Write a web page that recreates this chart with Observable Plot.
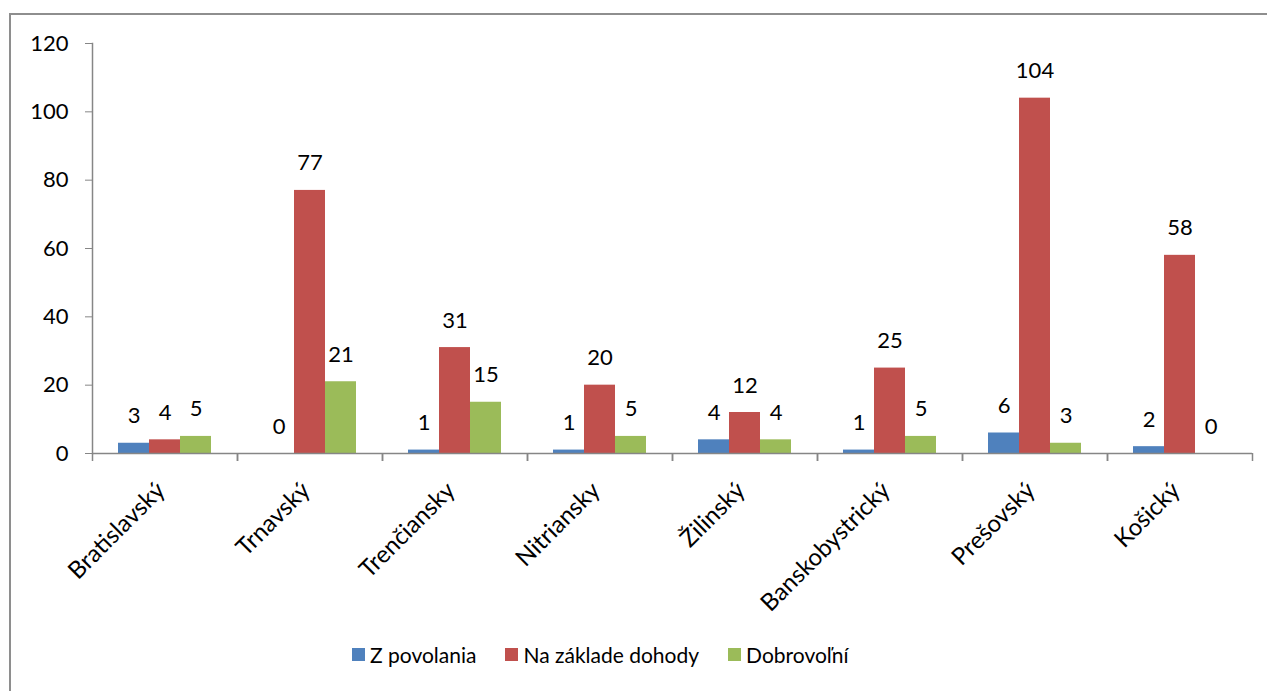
<!DOCTYPE html>
<html>
<head>
<meta charset="utf-8">
<script src="https://cdn.jsdelivr.net/npm/d3@7"></script>
<script src="https://cdn.jsdelivr.net/npm/@observablehq/plot@0.6"></script>
<style>
  html, body { margin: 0; padding: 0; background: #fff; }
  #wrap { position: relative; width: 1267px; height: 691px; overflow: hidden; font-family: Lato, sans-serif; }
  #border { position: absolute; left: 9px; top: 13px; width: 1400px; height: 800px; border-left: 2px solid #8e8e8e; border-top: 2px solid #8e8e8e; box-sizing: border-box; }
  #chart { position: absolute; left: 0; top: 0; }
  #legend { position: absolute; left: 352px; top: 638px; }
  #legend .lg-swatch { margin-right: 29px !important; }
  #legend .lg-swatch > svg { margin-right: 5px !important; }
</style>
</head>
<body>
<div id="wrap">
  <div id="border"></div>
  <div id="chart"></div>
  <div id="legend"></div>
</div>
<script>
const regions = ["Bratislavský", "Trnavský", "Trenčiansky", "Nitriansky", "Žilinský", "Banskobystrický", "Prešovský", "Košický"];
const series = ["Z povolania", "Na základe dohody", "Dobrovoľní"];
const zPovolania = [3, 0, 1, 1, 4, 1, 6, 2];
const naZakladeDohody = [4, 77, 31, 20, 12, 25, 104, 58];
const dobrovolni = [5, 21, 15, 5, 4, 5, 3, 0];
const yTicks = [0, 20, 40, 60, 80, 100, 120];
const colors = ["#4F81BD", "#C0504D", "#9BBB59"];

const seriesValues = [zPovolania, naZakladeDohody, dobrovolni];
const rows = [];
regions.forEach((r, i) => {
  series.forEach((s, j) => rows.push({region: r, series: s, value: seriesValues[j][i]}));
});

const W = 1267, H = 603, mL = 92, mR = 15, mT = 43, mB = 150;
const half = (W - mL - mR) / regions.length / 2;
const gray = "#868686";

const chart = Plot.plot({
  width: W, height: H,
  marginLeft: mL, marginRight: mR, marginTop: mT, marginBottom: mB,
  style: {fontFamily: "Lato, sans-serif", color: "#000", background: "transparent", overflow: "visible"},
  fx: {domain: regions, padding: 0, label: null},
  x: {domain: series, paddingInner: 0, paddingOuter: 0.77, axis: null},
  y: {domain: [0, 120], axis: null},
  color: {domain: series, range: colors},
  marks: [
    Plot.barY(rows, {fx: "region", x: "series", y: "value", fill: "series"}),
    Plot.text(rows, {fx: "region", x: "series", y: "value", text: d => String(d.value), dy: -27, fontSize: 22, lineAnchor: "middle", fill: "#000"}),
    Plot.ruleY([0], {stroke: gray, strokeWidth: 1.5}),
    Plot.frame({anchor: "left", facetAnchor: "left", stroke: gray, strokeWidth: 1.5}),
    Plot.axisY({ticks: yTicks, tickSize: 7, tickPadding: 17, fontSize: 22, stroke: gray, fill: "#000", label: null}),
    Plot.axisFx({anchor: "bottom", tickSize: 8, tickFormat: () => "", dx: -half, stroke: gray, strokeWidth: 1.5, label: null}),
    Plot.axisFx({anchor: "bottom", tickSize: 8, tickFormat: () => "", dx: half, stroke: gray, strokeWidth: 1.5, label: null}),
    Plot.axisFx({anchor: "bottom", tickSize: 0, tickRotate: -45, tickPadding: 33, dx: -4, fontSize: 24, fill: "#000", label: null})
  ]
});
document.getElementById("chart").appendChild(chart);

const legend = Plot.legend({
  color: {domain: series, range: colors},
  legend: "swatches",
  swatchSize: 13,
  className: "lg",
  style: {fontFamily: "Lato, sans-serif", fontSize: "21px", color: "#000"}
});
document.getElementById("legend").appendChild(legend);
</script>
</body>
</html>
